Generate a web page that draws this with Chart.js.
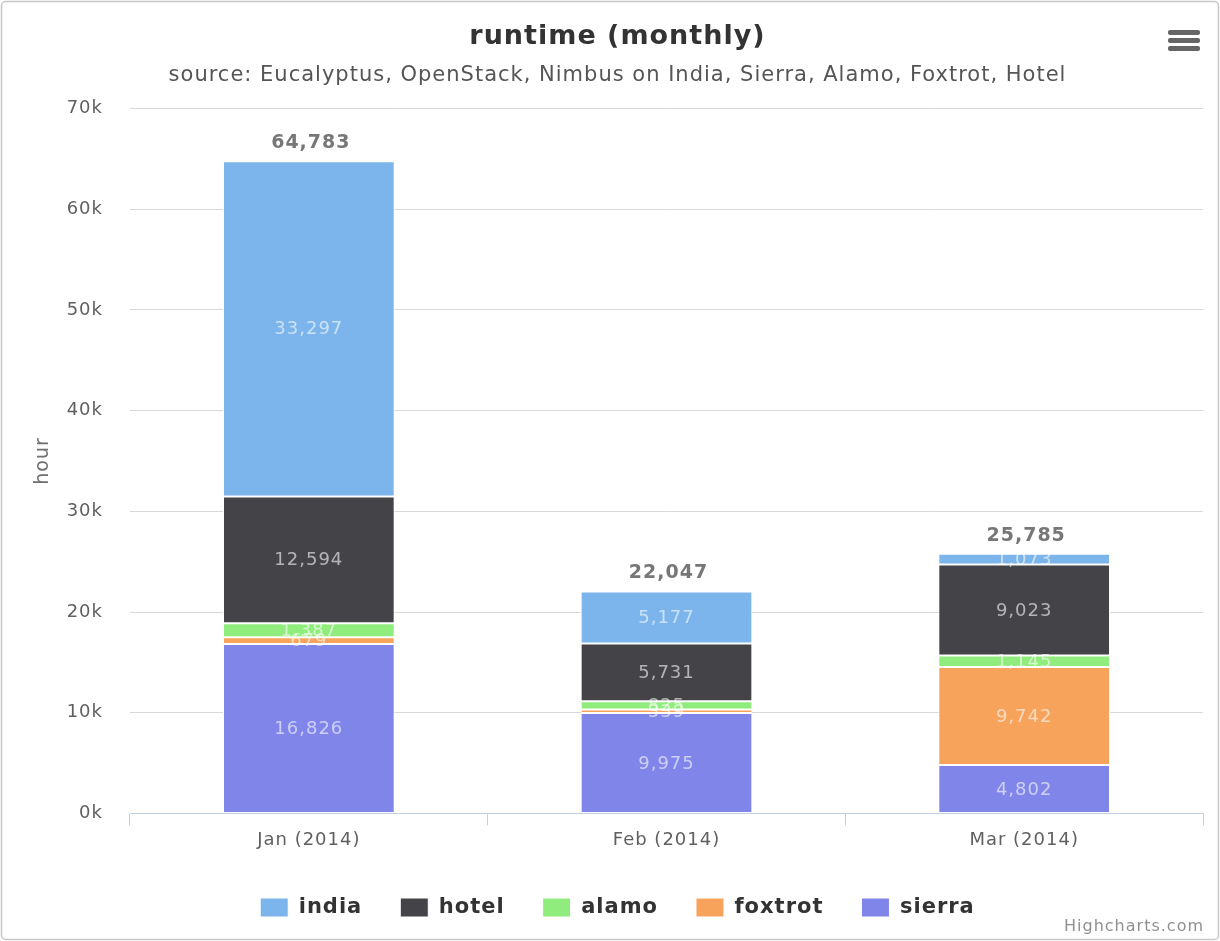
<!DOCTYPE html>
<html>
<head>
<meta charset="utf-8">
<title>runtime (monthly)</title>
<script src="https://cdn.jsdelivr.net/npm/chart.js@4"></script>
<style>
  html, body { margin: 0; padding: 0; background: #fff; }
  #wrap { width: 1220px; height: 941px; position: relative; }
</style>
</head>
<body>
<div id="wrap"><canvas id="grafico" width="1220" height="941"></canvas></div>
<script>
// Dados
const categorias = ['Jan (2014)', 'Feb (2014)', 'Mar (2014)'];
const india   = [33297, 5177, 1073];
const hotel   = [12594, 5731, 9023];
const alamo   = [1387, 825, 1145];
const foxtrot = [679, 339, 9742];
const sierra  = [16826, 9975, 4802];
const ticksY  = [0, 10000, 20000, 30000, 40000, 50000, 60000, 70000];

const FONTE = '"DejaVu Sans", sans-serif';
const fmt = v => v.toLocaleString('en-US');

// Espaçamento entre letras (o texto do original é mais "aberto")
const espacoPlugin = {
  id: 'espaco',
  beforeUpdate(chart) { chart.ctx.letterSpacing = '1px'; },
  beforeLayout(chart) { chart.ctx.letterSpacing = '1px'; },
  beforeDraw(chart) { chart.ctx.letterSpacing = '1px'; }
};

// Rótulos dentro das barras + totais de cada pilha
const rotulosPlugin = {
  id: 'rotulos',
  afterDatasetsDraw(chart) {
    const ctx = chart.ctx;
    ctx.save();
    ctx.textAlign = 'center';
    ctx.textBaseline = 'middle';
    ctx.font = '18px ' + FONTE;
    ctx.fillStyle = 'rgba(255,255,255,0.6)';
    chart.data.datasets.forEach((ds, i) => {
      const meta = chart.getDatasetMeta(i);
      if (meta.hidden) return;
      meta.data.forEach((bar, j) => {
        const yc = (bar.y + bar.base) / 2;
        ctx.fillText(fmt(ds.data[j]), bar.x, yc + 1);
      });
    });
    // totais
    ctx.font = 'bold 19px ' + FONTE;
    ctx.fillStyle = '#777777';
    categorias.forEach((c, j) => {
      let total = 0, topo = Infinity, x = 0;
      chart.data.datasets.forEach((ds, i) => {
        const meta = chart.getDatasetMeta(i);
        if (meta.hidden) return;
        total += ds.data[j];
        const bar = meta.data[j];
        topo = Math.min(topo, bar.y);
        x = bar.x;
      });
      ctx.fillText(fmt(total), x + 2, topo - 18);
    });
    ctx.restore();
  },
  afterDraw(chart) {
    const ctx = chart.ctx;
    ctx.save();
    // borda externa
    ctx.strokeStyle = '#c8c8c8';
    ctx.lineWidth = 1.5;
    ctx.beginPath();
    ctx.roundRect(1.5, 1.5, chart.width - 3, chart.height - 3, 4);
    ctx.stroke();
    // menu (hamburger)
    ctx.fillStyle = '#666666';
    [30, 38, 46].forEach(y => {
      ctx.beginPath();
      ctx.roundRect(1168, y, 32, 5, 2);
      ctx.fill();
    });
    // crédito
    ctx.font = '16px ' + FONTE;
    ctx.fillStyle = '#909090';
    ctx.textAlign = 'right';
    ctx.textBaseline = 'middle';
    ctx.fillText('Highcharts.com', 1204, 927);
    ctx.restore();
  }
};

const ctx = document.getElementById('grafico').getContext('2d');
window.myChart = new Chart(ctx, {
  type: 'bar',
  data: {
    labels: categorias,
    datasets: [
      { label: 'sierra',  data: sierra,  backgroundColor: '#8085e9' },
      { label: 'foxtrot', data: foxtrot, backgroundColor: '#f7a35c' },
      { label: 'alamo',   data: alamo,   backgroundColor: '#90ed7d' },
      { label: 'hotel',   data: hotel,   backgroundColor: '#434348' },
      { label: 'india',   data: india,   backgroundColor: '#7cb5ec' }
    ].map(d => Object.assign(d, {
      borderColor: '#ffffff',
      borderWidth: 1,
      borderSkipped: false,
      barPercentage: 0.48,
      categoryPercentage: 1
    }))
  },
  options: {
    responsive: false,
    animation: false,
    layout: { padding: { left: 32, right: 17, top: 0, bottom: 13 } },
    plugins: {
      title: {
        display: true,
        text: 'runtime (monthly)',
        color: '#333333',
        font: { family: FONTE, size: 27, weight: 'bold' },
        padding: { top: 21, bottom: 8 }
      },
      subtitle: {
        display: true,
        text: 'source: Eucalyptus, OpenStack, Nimbus on India, Sierra, Alamo, Foxtrot, Hotel',
        color: '#555555',
        font: { family: FONTE, size: 21 },
        padding: { top: 2, bottom: 20 }
      },
      legend: {
        position: 'bottom',
        reverse: true,
        labels: {
          boxWidth: 28,
          boxHeight: 19,
          padding: 38,
          color: '#333333',
          font: { family: FONTE, size: 21, weight: 'bold' }
        }
      },
      tooltip: { enabled: false }
    },
    scales: {
      x: {
        stacked: true,
        afterFit: s => { s.height += 4; },
        grid: { drawOnChartArea: false, drawTicks: true, tickLength: 12, color: '#c0d0e0', offset: true },
        border: { color: '#c0d0e0', width: 1 },
        ticks: { color: '#606060', font: { family: FONTE, size: 18 }, padding: 4 }
      },
      y: {
        stacked: true,
        min: 0,
        max: 70000,
        afterBuildTicks: s => { s.ticks = ticksY.map(v => ({ value: v })); },
        afterFit: s => { s.width = 98; },
        grid: { color: '#d8d8d8', drawTicks: false },
        border: { display: false },
        ticks: {
          color: '#606060',
          font: { family: FONTE, size: 18 },
          padding: 27,
          callback: v => (v / 1000) + 'k'
        },
        title: {
          display: true,
          text: 'hour',
          color: '#707070',
          font: { family: FONTE, size: 19 },
          padding: 0
        }
      }
    }
  },
  plugins: [espacoPlugin, rotulosPlugin]
});
</script>
</body>
</html>
